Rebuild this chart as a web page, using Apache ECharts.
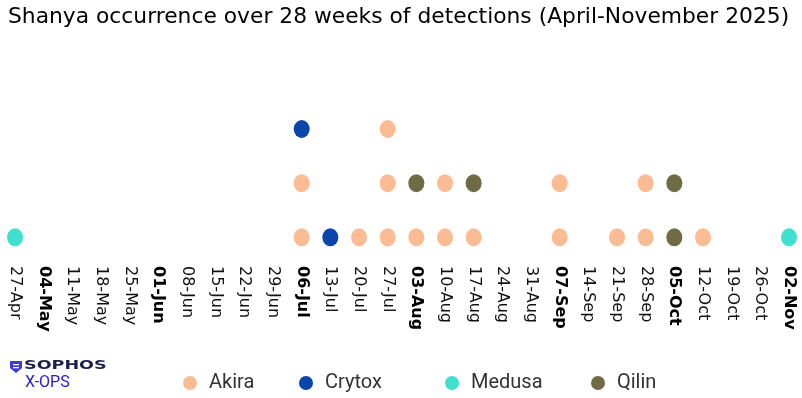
<!DOCTYPE html>
<html>
<head>
<meta charset="utf-8">
<script src="https://cdn.jsdelivr.net/npm/echarts@6/dist/echarts.min.js"></script>
<style>
  html, body { margin: 0; padding: 0; background: #fff; }
  #chart { width: 802px; height: 398px; }
</style>
</head>
<body>
<div id="chart"></div>
<script>
// weekly categories (first week of each month shown in bold)
const weeks = ['27-Apr', '04-May', '11-May', '18-May', '25-May', '01-Jun', '08-Jun', '15-Jun',
  '22-Jun', '29-Jun', '06-Jul', '13-Jul', '20-Jul', '27-Jul', '03-Aug', '10-Aug', '17-Aug',
  '24-Aug', '31-Aug', '07-Sep', '14-Sep', '21-Sep', '28-Sep', '05-Oct', '12-Oct', '19-Oct',
  '26-Oct', '02-Nov']
const boldWeeks = ['04-May', '01-Jun', '06-Jul', '03-Aug', '07-Sep', '05-Oct', '02-Nov']

// [week, stack level]
const akira = [['06-Jul', 1], ['06-Jul', 2], ['20-Jul', 1], ['27-Jul', 1], ['27-Jul', 2], ['27-Jul', 3],
  ['03-Aug', 1], ['10-Aug', 1], ['10-Aug', 2], ['17-Aug', 1], ['07-Sep', 1], ['07-Sep', 2],
  ['21-Sep', 1], ['28-Sep', 1], ['28-Sep', 2], ['12-Oct', 1]]
const crytox = [['06-Jul', 3], ['13-Jul', 1]]
const medusa = [['27-Apr', 1], ['02-Nov', 1]]
const qilin = [['03-Aug', 2], ['17-Aug', 2], ['05-Oct', 1], ['05-Oct', 2]]

const colors = {
  Akira: '#fbbc94',
  Crytox: '#0a44ad',
  Medusa: '#40e0d0',
  Qilin: '#6f6c45'
}

const chart = echarts.init(document.getElementById('chart'))

function dotSeries (name, data) {
  return {
    name: name,
    type: 'scatter',
    data: data,
    symbol: 'circle',
    symbolSize: [16, 18],
    itemStyle: { color: colors[name], opacity: 1 }
  }
}

function legendAt (name, left) {
  return {
    data: [name],
    left: left,
    top: 368,
    icon: 'circle',
    itemWidth: 14,
    itemHeight: 14,
    itemGap: 0,
    textStyle: { fontFamily: 'Roboto', fontSize: 20, color: '#333', padding: [0, 0, 0, 7] }
  }
}

const option = {
  animation: false,
  title: {
    text: 'Shanya occurrence over 28 weeks of detections (April-November 2025)',
    left: 3,
    top: 1,
    textStyle: { fontFamily: 'DejaVu Sans', fontWeight: 'normal', fontSize: 21.8, color: '#000' }
  },
  legend: [
    legendAt('Akira', 178),
    legendAt('Crytox', 294),
    legendAt('Medusa', 440),
    legendAt('Qilin', 586)
  ],
  grid: { left: 15, right: 13, top: 64, bottom: 139 },
  xAxis: {
    type: 'category',
    data: weeks,
    boundaryGap: false,
    axisLine: { show: false },
    axisTick: { show: false },
    splitLine: { show: false },
    axisLabel: {
      rotate: -90,
      interval: 0,
      margin: 7,
      fontFamily: 'DejaVu Sans',
      fontSize: 16,
      color: '#111',
      formatter: function (v) {
        return boldWeeks.indexOf(v) >= 0 ? '{b|' + v + '}' : v
      },
      rich: {
        b: { fontFamily: 'DejaVu Sans', fontSize: 16, fontWeight: 'bold', color: '#000' }
      }
    }
  },
  yAxis: {
    type: 'value',
    min: 0.6,
    max: 4.2,
    show: false
  },
  graphic: [
    {
      type: 'polygon',
      shape: { points: [[10, 361], [22, 361], [22, 368], [16, 373], [10, 368]] },
      style: { fill: '#3d3ad6' }
    },
    {
      type: 'rect',
      shape: { x: 13, y: 364, width: 6, height: 1.3 },
      style: { fill: '#fff' }
    },
    {
      type: 'rect',
      shape: { x: 13, y: 367, width: 6, height: 1.3 },
      style: { fill: '#fff' }
    },
    {
      type: 'text',
      x: 24,
      y: 359,
      scaleX: 1.35,
      style: { text: 'SOPHOS', fontFamily: 'DejaVu Sans', fontWeight: 'bold', fontSize: 13, fill: '#1c1f4a', verticalAlign: 'top' }
    },
    {
      type: 'text',
      x: 25,
      y: 375,
      style: { text: 'X-OPS', fontFamily: 'Roboto', fontSize: 16, fill: '#2a22c8', verticalAlign: 'top' }
    }
  ],
  series: [
    dotSeries('Akira', akira),
    dotSeries('Crytox', crytox),
    dotSeries('Medusa', medusa),
    dotSeries('Qilin', qilin)
  ]
}

chart.setOption(option)
</script>
</body>
</html>
